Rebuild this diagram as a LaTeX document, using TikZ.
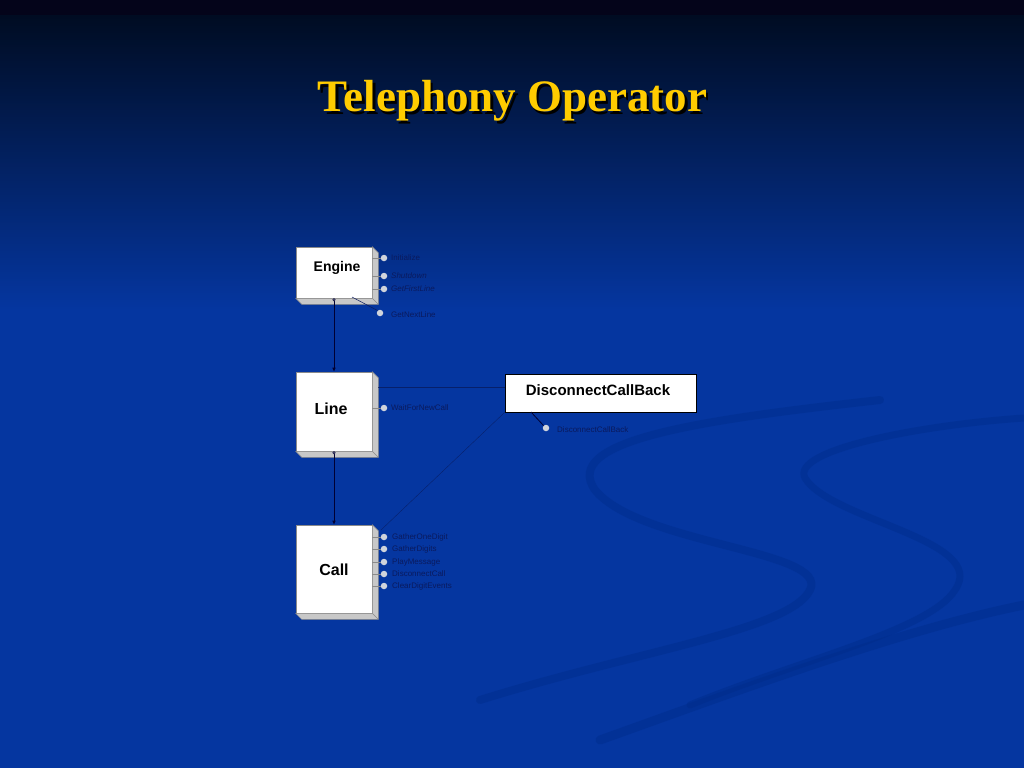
\documentclass[tikz,border=0pt]{standalone}
\usepackage{fontspec}
\setmainfont{Liberation Serif}
\setsansfont{Liberation Sans}
\usetikzlibrary{arrows.meta}
\definecolor{bgblue}{HTML}{0536A0}
\definecolor{bgtop}{HTML}{000C22}
\definecolor{bgmid}{HTML}{001D5C}
\definecolor{bgband}{HTML}{04041A}
\definecolor{swoosh}{HTML}{002C8A}
\definecolor{gold}{HTML}{FFCC00}
\definecolor{navy}{HTML}{0A1A5E}
\definecolor{sidegray}{HTML}{C8C8C8}
\definecolor{edgegray}{HTML}{8A8A8A}
\definecolor{dotgray}{HTML}{D0D4DC}
\tikzset{
  classbox/.style={draw=edgegray, fill=white, line width=0.6pt, minimum width=76pt, font=\sffamily\bfseries},
  dot/.style={circle, fill=dotgray, inner sep=0pt, minimum size=6.5pt},
  lbl/.style={font=\sffamily\fontsize{8}{9}\selectfont, text=navy, inner sep=0pt, anchor=west},
  stub/.style={draw=edgegray, line width=0.5pt},
  conn/.style={draw=black!80!blue, line width=0.6pt},
  faint/.style={draw=navy!90!black, line width=0.4pt, opacity=0.7},
  swirl/.style={draw=swoosh, line cap=round, opacity=0.45}
}
\newcommand{\boxside}[1]{%
  \fill[sidegray, draw=edgegray, line width=0.5pt] (#1.north east) -- ([shift={(6,6)}]#1.north east) -- ([shift={(6,6)}]#1.south east) -- ([shift={(6,6)}]#1.south west) -- (#1.south west) -- (#1.south east) -- cycle;
  \draw[edgegray, line width=0.5pt] (#1.south east) -- ([shift={(6,6)}]#1.south east);
}
\begin{document}
\begin{tikzpicture}[x=1pt,y=-1pt]
\useasboundingbox (0,0) rectangle (1024,768);
% background
\fill[bgblue] (0,0) rectangle (1024,768);
\shade[top color=bgtop, middle color=bgmid, bottom color=bgblue] (0,15) rectangle (1024,310);
\fill[bgband] (0,0) rectangle (1024,15.5);
% swooshes
\draw[swirl, line width=8pt] (880,400) .. controls (700,420) and (560,440) .. (595,490) .. controls (640,545) and (830,550) .. (810,590) .. controls (790,630) and (640,650) .. (480,700);
\draw[swirl, line width=7pt] (1024,418) .. controls (920,425) and (790,450) .. (805,478) .. controls (830,520) and (990,540) .. (955,590) .. controls (930,630) and (800,660) .. (690,705);
\draw[swirl, line width=9pt] (1024,605) .. controls (900,630) and (740,690) .. (600,740);
% title
\node[font=\bfseries\fontsize{45}{50}\selectfont, text=black] at (515,104) {Telephony Operator};
\node[font=\bfseries\fontsize{45}{50}\selectfont, text=gold] (title) at (512.5,101) {Telephony Operator};
% boxes
\node[classbox, minimum height=51pt] (engine) at (334,272.5) {};
\node[classbox, minimum height=79pt] (line) at (334,411.5) {};
\node[classbox, minimum height=88pt] (call) at (334,569) {};
\boxside{engine}
\boxside{line}
\boxside{call}
\node[font=\sffamily\bfseries\fontsize{14}{16}\selectfont] (engt) at (337,268) {Engine};
\node[font=\sffamily\bfseries\fontsize{16}{18}\selectfont] (lint) at (331,409) {Line};
\node[font=\sffamily\bfseries\fontsize{16}{18}\selectfont] (calt) at (334,570) {Call};
\node[draw=black, fill=white, line width=0.8pt, minimum width=191pt, minimum height=38pt] (dcb) at (600.5,393) {};
\node[font=\sffamily\bfseries\fontsize{15}{17}\selectfont] (dcbt) at (598,390) {DisconnectCallBack};
% faint connectors to DisconnectCallBack
\coordinate (lineref) at (378,387);
\coordinate (callref) at (381,530);
\draw[faint] (lineref) -- (lineref -| dcb.west);
\draw[faint] (callref) -- (dcb.south west);
% vertical connectors
\draw[conn, {Circle[open,length=3pt,fill=white]}-{Latex[length=4pt,width=3.5pt]}] (engine.south) -- (line.north);
\draw[conn, {Circle[open,length=3pt,fill=white]}-{Latex[length=4pt,width=3.5pt]}] (line.south) -- (call.north);
% engine methods
\node[dot] (e1) at (384,258) {};
\node[dot] (e2) at (384,276) {};
\node[dot] (e3) at (384,289) {};
\node[dot] (e4) at (380,313) {};
\foreach \d in {e1,e2,e3} { \draw[stub] (\d.center -| engine.east) -- (\d.west); }
\coordinate (e4s) at (352,297);
\draw[stub, draw=navy] (e4s) -- (e4.north west);
\node[lbl] (e1l) at (391,258) {Initialize};
\node[lbl, font=\sffamily\itshape\fontsize{8}{9}\selectfont] (e2l) at (391,276) {Shutdown};
\node[lbl, font=\sffamily\itshape\fontsize{8}{9}\selectfont] (e3l) at (391,289) {GetFirstLine};
\node[lbl] (e4l) at (391,315) {GetNextLine};
% line methods
\node[dot] (l1) at (384,408) {};
\draw[stub] (l1.center -| line.east) -- (l1.west);
\node[lbl] (l1l) at (391,408) {WaitForNewCall};
% dcb method
\node[dot] (d1) at (546,428) {};
\coordinate (d1s) at (531,412);
\draw[conn, line width=0.8pt] (d1s) -- (d1.north west);
\node[lbl] (d1l) at (557,430) {DisconnectCallBack};
% call methods
\foreach \n/\yy/\t in {c1/537/GatherOneDigit, c2/549/GatherDigits, c3/562/PlayMessage, c4/574/DisconnectCall, c5/586/ClearDigitEvents} {
  \node[dot] (\n) at (384,\yy) {};
  \draw[stub] (\n.center -| call.east) -- (\n.west);
  \node[lbl] (\n l) at (392,\yy) {\t};
}
\end{tikzpicture}
\end{document}
